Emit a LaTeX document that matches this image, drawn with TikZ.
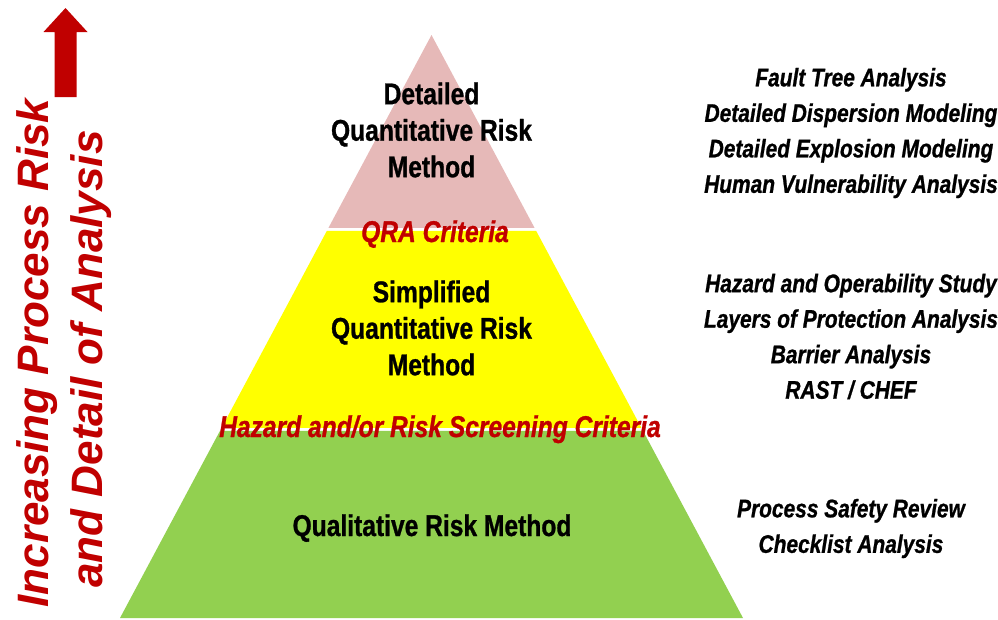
\documentclass[tikz,border=0pt]{standalone}
\usepackage{fontspec}
\setmainfont{Liberation Sans}
\newfontfamily\narrowfont{Liberation Sans}[FakeStretch=0.82,
    BoldFeatures={FakeBold=0.9}, BoldItalicFeatures={FakeBold=0.9}]
\usetikzlibrary{calc}

\definecolor{tierPink}{HTML}{E6B9B8}
\definecolor{tierYellow}{HTML}{FFFF00}
\definecolor{tierGreen}{HTML}{92D050}
\definecolor{darkRed}{HTML}{C00000}

\begin{document}
\begin{tikzpicture}[
    x=1pt, y=-1pt,
    % ====================
    % NODE STYLES
    % ====================
    method/.style={
        align=center, inner sep=0pt, text=black,
        font=\narrowfont\bfseries\fontsize{30}{36.5}\selectfont
    },
    criteria/.style={
        inner sep=0pt, text=darkRed,
        font=\narrowfont\bfseries\itshape\fontsize{30}{36}\selectfont
    },
    tools/.style={
        align=center, inner sep=0pt, text=black,
        font=\narrowfont\bfseries\itshape\fontsize{25.5}{35.5}\selectfont
    },
    axis_label/.style={
        rotate=90, anchor=base, inner sep=0pt, text=darkRed,
        font=\bfseries\itshape\fontsize{44}{50}\selectfont
    }
]

% ====================
% FRAME
% ====================
\useasboundingbox (0,0) rectangle (998,619);

% ====================
% PYRAMID TIERS
% ====================
\coordinate (apex) at (431.5,35);
\coordinate (baseL) at (120,618);
\coordinate (baseR) at (743,618);

% Top tier
\fill[tierPink] (apex) -- ($(apex)!0.331!(baseR)$) -- ($(apex)!0.331!(baseL)$) -- cycle;
% Middle tier
\fill[tierYellow] ($(apex)!0.336!(baseL)$) -- ($(apex)!0.336!(baseR)$)
    -- ($(apex)!0.674!(baseR)$) -- ($(apex)!0.674!(baseL)$) -- cycle;
% Bottom tier
\fill[tierGreen] ($(apex)!0.679!(baseL)$) -- ($(apex)!0.679!(baseR)$)
    -- (baseR) -- (baseL) -- cycle;

% ====================
% TIER TEXTS
% ====================
\node[method] (detailed) at (431.5,130) {Detailed\\Quantitative Risk\\Method};
\node[criteria, anchor=base] (qraCrit) at (435,242) {QRA Criteria};
\node[method] (simplified) at (431.5,328) {Simplified\\Quantitative Risk\\Method};
\node[criteria, anchor=base] (screenCrit) at (440,437) {Hazard and/or Risk Screening Criteria};
\node[method, anchor=base] (qualitative) at (432,536) {Qualitative Risk Method};

% ====================
% ANALYSIS TOOLS (RIGHT)
% ====================
\node[tools] (toolsQRA) at (851,133) {Fault Tree Analysis\\Detailed Dispersion Modeling\\Detailed Explosion Modeling\\Human Vulnerability Analysis};
\node[tools] (toolsSimpl) at (851,336.5) {Hazard and Operability Study\\Layers of Protection Analysis\\Barrier Analysis\\RAST / CHEF};
\node[tools] (toolsQual) at (851,528.5) {Process Safety Review\\Checklist Analysis};

% ====================
% AXIS (LEFT)
% ====================
\fill[darkRed] (65.5,8) -- (87.5,32) -- (76.5,32) -- (76.5,97)
    -- (54.5,97) -- (54.5,32) -- (43.5,32) -- cycle;
\node[axis_label] (axisRisk) at (48,353) {Increasing Process Risk};
\node[axis_label] (axisDetail) at (102,359) {and Detail of Analysis};

\end{tikzpicture}
\end{document}
